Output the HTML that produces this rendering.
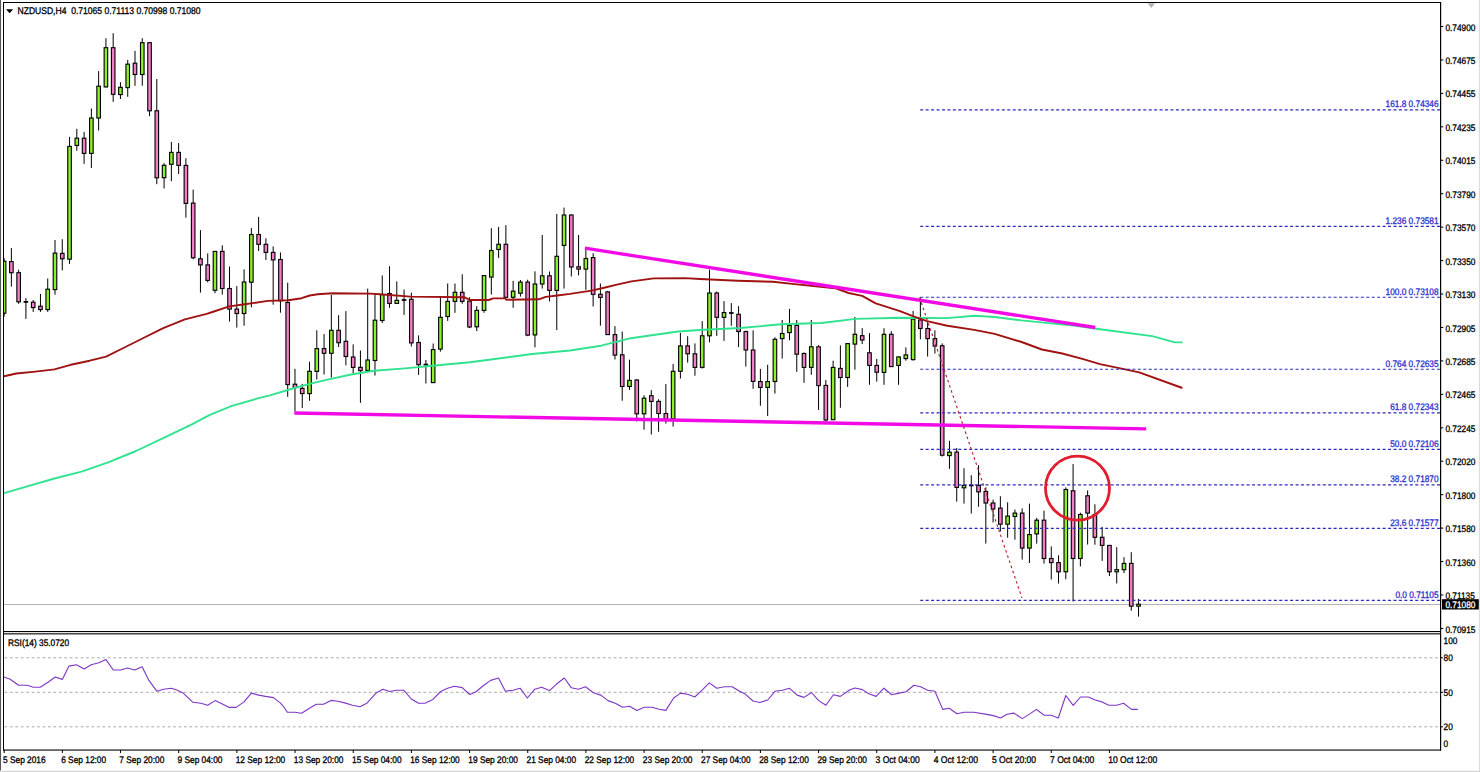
<!DOCTYPE html>
<html><head><meta charset="utf-8"><title>NZDUSD,H4</title>
<style>
html,body{margin:0;padding:0;background:#fff;overflow:hidden}
svg{display:block}
text{font-family:"Liberation Sans", Arial, sans-serif;text-rendering:geometricPrecision;stroke-width:0.28px}
.ax{font-size:8.3px;fill:#000;stroke:#000}
.fb{font-size:8.3px;fill:#3030d0;stroke:#3030d0}
.tt{font-size:8.56px;fill:#000;stroke:#000}
.dt{font-size:8.34px;fill:#000;stroke:#000}
</style></head><body>
<svg width="1480" height="772" viewBox="0 0 1480 772">
<rect x="0" y="0" width="1480" height="772" fill="#ffffff"/>
<rect x="0" y="0" width="1.05" height="770.5" fill="#555555"/>
<rect x="1478.9" y="0" width="1.1" height="772" fill="#dcdcdc"/>
<rect x="0" y="770.8" width="1480" height="1.2" fill="#d4d4d4"/>
<path d="M1147.6 3.2 L1155 3.2 L1151.3 7.9 Z" fill="#b4b4b4"/>
<defs><clipPath id="mc"><rect x="3.5" y="2.5" width="1437" height="629"/></clipPath><clipPath id="rc"><rect x="3.5" y="634" width="1437" height="116"/></clipPath></defs>
<g clip-path="url(#mc)">
<line x1="3" y1="604.5" x2="1440.5" y2="604.5" stroke="#b4b4b4" stroke-width="1"/>
<line x1="4.10" y1="258.2" x2="4.10" y2="316.6" stroke="#000" stroke-width="1"/>
<rect x="2.32" y="261.2" width="3.56" height="52.0" fill="#8cf02a" stroke="#000" stroke-width="1.12"/>
<line x1="11.37" y1="248.1" x2="11.37" y2="286.6" stroke="#000" stroke-width="1"/>
<rect x="9.59" y="261.6" width="3.56" height="11.1" fill="#f47fc8" stroke="#000" stroke-width="1.12"/>
<line x1="18.64" y1="269.7" x2="18.64" y2="303.8" stroke="#000" stroke-width="1"/>
<rect x="16.86" y="272.7" width="3.56" height="29.1" fill="#f47fc8" stroke="#000" stroke-width="1.12"/>
<line x1="25.92" y1="298.0" x2="25.92" y2="318.9" stroke="#000" stroke-width="1"/>
<line x1="23.62" y1="301.8" x2="28.22" y2="301.8" stroke="#000" stroke-width="1.75"/>
<line x1="33.19" y1="300.0" x2="33.19" y2="311.9" stroke="#000" stroke-width="1"/>
<rect x="31.41" y="302.2" width="3.56" height="5.4" fill="#f47fc8" stroke="#000" stroke-width="1.12"/>
<line x1="40.46" y1="293.9" x2="40.46" y2="311.9" stroke="#000" stroke-width="1"/>
<rect x="38.68" y="306.2" width="3.56" height="3.4" fill="#f47fc8" stroke="#000" stroke-width="1.12"/>
<line x1="47.73" y1="278.5" x2="47.73" y2="311.9" stroke="#000" stroke-width="1"/>
<rect x="45.95" y="289.2" width="3.56" height="20.4" fill="#8cf02a" stroke="#000" stroke-width="1.12"/>
<line x1="55.00" y1="240.0" x2="55.00" y2="294.7" stroke="#000" stroke-width="1"/>
<rect x="53.22" y="253.1" width="3.56" height="36.5" fill="#8cf02a" stroke="#000" stroke-width="1.12"/>
<line x1="62.28" y1="239.2" x2="62.28" y2="270.4" stroke="#000" stroke-width="1"/>
<rect x="60.50" y="253.4" width="3.56" height="5.4" fill="#f47fc8" stroke="#000" stroke-width="1.12"/>
<line x1="69.55" y1="136.9" x2="69.55" y2="263.9" stroke="#000" stroke-width="1"/>
<rect x="67.77" y="146.4" width="3.56" height="112.8" fill="#8cf02a" stroke="#000" stroke-width="1.12"/>
<line x1="76.82" y1="128.8" x2="76.82" y2="150.8" stroke="#000" stroke-width="1"/>
<rect x="75.04" y="138.2" width="3.56" height="7.2" fill="#8cf02a" stroke="#000" stroke-width="1.12"/>
<line x1="84.09" y1="131.9" x2="84.09" y2="163.9" stroke="#000" stroke-width="1"/>
<rect x="82.31" y="138.2" width="3.56" height="15.2" fill="#f47fc8" stroke="#000" stroke-width="1.12"/>
<line x1="91.36" y1="108.5" x2="91.36" y2="168.0" stroke="#000" stroke-width="1"/>
<rect x="89.58" y="118.0" width="3.56" height="35.4" fill="#8cf02a" stroke="#000" stroke-width="1.12"/>
<line x1="98.64" y1="71.1" x2="98.64" y2="130.5" stroke="#000" stroke-width="1"/>
<rect x="96.86" y="86.2" width="3.56" height="31.8" fill="#8cf02a" stroke="#000" stroke-width="1.12"/>
<line x1="105.91" y1="38.2" x2="105.91" y2="87.6" stroke="#000" stroke-width="1"/>
<rect x="104.13" y="47.7" width="3.56" height="39.2" fill="#8cf02a" stroke="#000" stroke-width="1.12"/>
<line x1="113.18" y1="33.2" x2="113.18" y2="101.8" stroke="#000" stroke-width="1"/>
<rect x="111.40" y="47.7" width="3.56" height="46.6" fill="#f47fc8" stroke="#000" stroke-width="1.12"/>
<line x1="120.45" y1="82.2" x2="120.45" y2="99.0" stroke="#000" stroke-width="1"/>
<rect x="118.67" y="87.3" width="3.56" height="7.3" fill="#8cf02a" stroke="#000" stroke-width="1.12"/>
<line x1="127.72" y1="59.9" x2="127.72" y2="96.8" stroke="#000" stroke-width="1"/>
<rect x="125.94" y="64.2" width="3.56" height="23.4" fill="#8cf02a" stroke="#000" stroke-width="1.12"/>
<line x1="135.00" y1="50.8" x2="135.00" y2="85.8" stroke="#000" stroke-width="1"/>
<rect x="133.22" y="63.2" width="3.56" height="11.3" fill="#f47fc8" stroke="#000" stroke-width="1.12"/>
<line x1="142.27" y1="38.2" x2="142.27" y2="85.8" stroke="#000" stroke-width="1"/>
<rect x="140.49" y="42.7" width="3.56" height="31.8" fill="#8cf02a" stroke="#000" stroke-width="1.12"/>
<line x1="149.54" y1="42.3" x2="149.54" y2="116.2" stroke="#000" stroke-width="1"/>
<rect x="147.76" y="42.7" width="3.56" height="68.1" fill="#f47fc8" stroke="#000" stroke-width="1.12"/>
<line x1="156.81" y1="79.0" x2="156.81" y2="184.2" stroke="#000" stroke-width="1"/>
<rect x="155.03" y="110.8" width="3.56" height="67.0" fill="#f47fc8" stroke="#000" stroke-width="1.12"/>
<line x1="164.08" y1="163.2" x2="164.08" y2="188.5" stroke="#000" stroke-width="1"/>
<rect x="162.30" y="165.3" width="3.56" height="12.4" fill="#8cf02a" stroke="#000" stroke-width="1.12"/>
<line x1="171.36" y1="141.9" x2="171.36" y2="181.2" stroke="#000" stroke-width="1"/>
<rect x="169.58" y="152.4" width="3.56" height="11.9" fill="#8cf02a" stroke="#000" stroke-width="1.12"/>
<line x1="178.63" y1="143.0" x2="178.63" y2="174.0" stroke="#000" stroke-width="1"/>
<rect x="176.85" y="152.4" width="3.56" height="13.0" fill="#f47fc8" stroke="#000" stroke-width="1.12"/>
<line x1="185.90" y1="158.2" x2="185.90" y2="217.7" stroke="#000" stroke-width="1"/>
<rect x="184.12" y="165.4" width="3.56" height="38.0" fill="#f47fc8" stroke="#000" stroke-width="1.12"/>
<line x1="193.17" y1="189.6" x2="193.17" y2="259.2" stroke="#000" stroke-width="1"/>
<rect x="191.39" y="203.1" width="3.56" height="54.7" fill="#f47fc8" stroke="#000" stroke-width="1.12"/>
<line x1="200.44" y1="230.1" x2="200.44" y2="292.6" stroke="#000" stroke-width="1"/>
<rect x="198.66" y="258.8" width="3.56" height="6.1" fill="#f47fc8" stroke="#000" stroke-width="1.12"/>
<line x1="207.72" y1="253.4" x2="207.72" y2="282.4" stroke="#000" stroke-width="1"/>
<rect x="205.94" y="264.9" width="3.56" height="15.5" fill="#f47fc8" stroke="#000" stroke-width="1.12"/>
<line x1="214.99" y1="251.4" x2="214.99" y2="293.2" stroke="#000" stroke-width="1"/>
<rect x="213.21" y="251.4" width="3.56" height="38.9" fill="#8cf02a" stroke="#000" stroke-width="1.12"/>
<line x1="222.26" y1="245.3" x2="222.26" y2="294.6" stroke="#000" stroke-width="1"/>
<rect x="220.48" y="251.4" width="3.56" height="37.1" fill="#f47fc8" stroke="#000" stroke-width="1.12"/>
<line x1="229.53" y1="266.5" x2="229.53" y2="321.6" stroke="#000" stroke-width="1"/>
<rect x="227.75" y="288.5" width="3.56" height="20.6" fill="#f47fc8" stroke="#000" stroke-width="1.12"/>
<line x1="236.80" y1="286.1" x2="236.80" y2="327.6" stroke="#000" stroke-width="1"/>
<rect x="235.02" y="309.1" width="3.56" height="4.4" fill="#f47fc8" stroke="#000" stroke-width="1.12"/>
<line x1="244.08" y1="269.3" x2="244.08" y2="325.7" stroke="#000" stroke-width="1"/>
<rect x="242.30" y="282.0" width="3.56" height="31.5" fill="#8cf02a" stroke="#000" stroke-width="1.12"/>
<line x1="251.35" y1="228.1" x2="251.35" y2="307.4" stroke="#000" stroke-width="1"/>
<rect x="249.57" y="234.5" width="3.56" height="47.7" fill="#8cf02a" stroke="#000" stroke-width="1.12"/>
<line x1="258.62" y1="216.9" x2="258.62" y2="251.1" stroke="#000" stroke-width="1"/>
<rect x="256.84" y="234.5" width="3.56" height="9.8" fill="#f47fc8" stroke="#000" stroke-width="1.12"/>
<line x1="265.89" y1="238.2" x2="265.89" y2="260.1" stroke="#000" stroke-width="1"/>
<rect x="264.11" y="244.3" width="3.56" height="8.1" fill="#f47fc8" stroke="#000" stroke-width="1.12"/>
<line x1="273.16" y1="246.4" x2="273.16" y2="304.7" stroke="#000" stroke-width="1"/>
<rect x="271.38" y="252.4" width="3.56" height="7.5" fill="#f47fc8" stroke="#000" stroke-width="1.12"/>
<line x1="280.44" y1="252.4" x2="280.44" y2="312.7" stroke="#000" stroke-width="1"/>
<rect x="278.66" y="259.5" width="3.56" height="41.3" fill="#f47fc8" stroke="#000" stroke-width="1.12"/>
<line x1="287.71" y1="282.7" x2="287.71" y2="396.8" stroke="#000" stroke-width="1"/>
<rect x="285.93" y="302.5" width="3.56" height="82.1" fill="#f47fc8" stroke="#000" stroke-width="1.12"/>
<line x1="294.98" y1="368.8" x2="294.98" y2="411.4" stroke="#000" stroke-width="1"/>
<rect x="293.20" y="384.2" width="3.56" height="3.4" fill="#f47fc8" stroke="#000" stroke-width="1.12"/>
<line x1="302.25" y1="383.9" x2="302.25" y2="408.0" stroke="#000" stroke-width="1"/>
<rect x="300.47" y="388.4" width="3.56" height="5.2" fill="#f47fc8" stroke="#000" stroke-width="1.12"/>
<line x1="309.52" y1="361.7" x2="309.52" y2="400.8" stroke="#000" stroke-width="1"/>
<rect x="307.74" y="371.3" width="3.56" height="22.3" fill="#8cf02a" stroke="#000" stroke-width="1.12"/>
<line x1="316.80" y1="330.3" x2="316.80" y2="379.6" stroke="#000" stroke-width="1"/>
<rect x="315.02" y="348.6" width="3.56" height="22.8" fill="#8cf02a" stroke="#000" stroke-width="1.12"/>
<line x1="324.07" y1="334.1" x2="324.07" y2="374.5" stroke="#000" stroke-width="1"/>
<rect x="322.29" y="348.6" width="3.56" height="4.7" fill="#f47fc8" stroke="#000" stroke-width="1.12"/>
<line x1="331.34" y1="295.0" x2="331.34" y2="377.5" stroke="#000" stroke-width="1"/>
<rect x="329.56" y="330.3" width="3.56" height="23.0" fill="#8cf02a" stroke="#000" stroke-width="1.12"/>
<line x1="338.61" y1="315.1" x2="338.61" y2="347.0" stroke="#000" stroke-width="1"/>
<rect x="336.83" y="330.3" width="3.56" height="12.4" fill="#f47fc8" stroke="#000" stroke-width="1.12"/>
<line x1="345.88" y1="311.1" x2="345.88" y2="365.4" stroke="#000" stroke-width="1"/>
<rect x="344.10" y="341.3" width="3.56" height="15.2" fill="#f47fc8" stroke="#000" stroke-width="1.12"/>
<line x1="353.16" y1="344.4" x2="353.16" y2="373.5" stroke="#000" stroke-width="1"/>
<rect x="351.38" y="357.0" width="3.56" height="10.4" fill="#f47fc8" stroke="#000" stroke-width="1.12"/>
<line x1="360.43" y1="350.5" x2="360.43" y2="402.8" stroke="#000" stroke-width="1"/>
<rect x="358.65" y="367.3" width="3.56" height="3.3" fill="#f47fc8" stroke="#000" stroke-width="1.12"/>
<line x1="367.70" y1="288.6" x2="367.70" y2="371.9" stroke="#000" stroke-width="1"/>
<rect x="365.92" y="360.0" width="3.56" height="10.5" fill="#8cf02a" stroke="#000" stroke-width="1.12"/>
<line x1="374.97" y1="294.4" x2="374.97" y2="375.5" stroke="#000" stroke-width="1"/>
<rect x="373.19" y="320.2" width="3.56" height="40.3" fill="#8cf02a" stroke="#000" stroke-width="1.12"/>
<line x1="382.24" y1="275.4" x2="382.24" y2="323.0" stroke="#000" stroke-width="1"/>
<rect x="380.46" y="294.6" width="3.56" height="25.9" fill="#8cf02a" stroke="#000" stroke-width="1.12"/>
<line x1="389.52" y1="266.2" x2="389.52" y2="307.8" stroke="#000" stroke-width="1"/>
<rect x="387.74" y="293.5" width="3.56" height="9.9" fill="#f47fc8" stroke="#000" stroke-width="1.12"/>
<line x1="396.79" y1="281.4" x2="396.79" y2="303.8" stroke="#000" stroke-width="1"/>
<rect x="395.01" y="300.3" width="3.56" height="3.1" fill="#8cf02a" stroke="#000" stroke-width="1.12"/>
<line x1="404.06" y1="289.6" x2="404.06" y2="314.9" stroke="#000" stroke-width="1"/>
<line x1="401.76" y1="300.0" x2="406.36" y2="300.0" stroke="#000" stroke-width="1.75"/>
<line x1="411.33" y1="292.6" x2="411.33" y2="346.4" stroke="#000" stroke-width="1"/>
<rect x="409.55" y="299.3" width="3.56" height="43.6" fill="#f47fc8" stroke="#000" stroke-width="1.12"/>
<line x1="418.60" y1="335.4" x2="418.60" y2="374.9" stroke="#000" stroke-width="1"/>
<rect x="416.82" y="342.5" width="3.56" height="22.1" fill="#f47fc8" stroke="#000" stroke-width="1.12"/>
<line x1="425.88" y1="360.0" x2="425.88" y2="383.5" stroke="#000" stroke-width="1"/>
<line x1="423.58" y1="364.6" x2="428.18" y2="364.6" stroke="#000" stroke-width="1.75"/>
<line x1="433.15" y1="343.5" x2="433.15" y2="383.0" stroke="#000" stroke-width="1"/>
<rect x="431.37" y="349.6" width="3.56" height="33.0" fill="#8cf02a" stroke="#000" stroke-width="1.12"/>
<line x1="440.42" y1="297.3" x2="440.42" y2="351.6" stroke="#000" stroke-width="1"/>
<rect x="438.64" y="317.3" width="3.56" height="31.8" fill="#8cf02a" stroke="#000" stroke-width="1.12"/>
<line x1="447.69" y1="283.5" x2="447.69" y2="320.9" stroke="#000" stroke-width="1"/>
<rect x="445.91" y="301.4" width="3.56" height="15.1" fill="#8cf02a" stroke="#000" stroke-width="1.12"/>
<line x1="454.96" y1="283.5" x2="454.96" y2="312.8" stroke="#000" stroke-width="1"/>
<rect x="453.18" y="292.3" width="3.56" height="9.1" fill="#8cf02a" stroke="#000" stroke-width="1.12"/>
<line x1="462.24" y1="274.3" x2="462.24" y2="303.8" stroke="#000" stroke-width="1"/>
<rect x="460.46" y="292.3" width="3.56" height="9.1" fill="#f47fc8" stroke="#000" stroke-width="1.12"/>
<line x1="469.51" y1="297.3" x2="469.51" y2="328.1" stroke="#000" stroke-width="1"/>
<rect x="467.73" y="301.1" width="3.56" height="25.9" fill="#f47fc8" stroke="#000" stroke-width="1.12"/>
<line x1="476.78" y1="306.1" x2="476.78" y2="331.1" stroke="#000" stroke-width="1"/>
<rect x="475.00" y="310.4" width="3.56" height="16.4" fill="#8cf02a" stroke="#000" stroke-width="1.12"/>
<line x1="484.05" y1="275.0" x2="484.05" y2="312.8" stroke="#000" stroke-width="1"/>
<rect x="482.27" y="275.6" width="3.56" height="34.8" fill="#8cf02a" stroke="#000" stroke-width="1.12"/>
<line x1="491.32" y1="228.2" x2="491.32" y2="294.6" stroke="#000" stroke-width="1"/>
<rect x="489.54" y="250.5" width="3.56" height="26.6" fill="#8cf02a" stroke="#000" stroke-width="1.12"/>
<line x1="498.60" y1="226.9" x2="498.60" y2="258.0" stroke="#000" stroke-width="1"/>
<rect x="496.82" y="244.3" width="3.56" height="5.2" fill="#8cf02a" stroke="#000" stroke-width="1.12"/>
<line x1="505.87" y1="225.1" x2="505.87" y2="298.0" stroke="#000" stroke-width="1"/>
<rect x="504.09" y="244.3" width="3.56" height="53.0" fill="#f47fc8" stroke="#000" stroke-width="1.12"/>
<line x1="513.14" y1="280.8" x2="513.14" y2="307.8" stroke="#000" stroke-width="1"/>
<rect x="511.36" y="291.2" width="3.56" height="6.1" fill="#8cf02a" stroke="#000" stroke-width="1.12"/>
<line x1="520.41" y1="280.0" x2="520.41" y2="296.6" stroke="#000" stroke-width="1"/>
<rect x="518.63" y="282.1" width="3.56" height="11.1" fill="#8cf02a" stroke="#000" stroke-width="1.12"/>
<line x1="527.68" y1="279.7" x2="527.68" y2="336.2" stroke="#000" stroke-width="1"/>
<rect x="525.90" y="282.1" width="3.56" height="53.0" fill="#f47fc8" stroke="#000" stroke-width="1.12"/>
<line x1="534.96" y1="271.4" x2="534.96" y2="347.3" stroke="#000" stroke-width="1"/>
<rect x="533.18" y="284.0" width="3.56" height="50.9" fill="#8cf02a" stroke="#000" stroke-width="1.12"/>
<line x1="542.23" y1="235.0" x2="542.23" y2="288.6" stroke="#000" stroke-width="1"/>
<rect x="540.45" y="275.8" width="3.56" height="8.2" fill="#8cf02a" stroke="#000" stroke-width="1.12"/>
<line x1="549.50" y1="271.5" x2="549.50" y2="301.4" stroke="#000" stroke-width="1"/>
<rect x="547.72" y="275.8" width="3.56" height="14.6" fill="#f47fc8" stroke="#000" stroke-width="1.12"/>
<line x1="556.77" y1="213.9" x2="556.77" y2="330.0" stroke="#000" stroke-width="1"/>
<rect x="554.99" y="256.3" width="3.56" height="34.1" fill="#8cf02a" stroke="#000" stroke-width="1.12"/>
<line x1="564.04" y1="207.6" x2="564.04" y2="288.6" stroke="#000" stroke-width="1"/>
<rect x="562.26" y="215.0" width="3.56" height="30.4" fill="#8cf02a" stroke="#000" stroke-width="1.12"/>
<line x1="571.32" y1="214.6" x2="571.32" y2="276.5" stroke="#000" stroke-width="1"/>
<rect x="569.54" y="215.0" width="3.56" height="52.0" fill="#f47fc8" stroke="#000" stroke-width="1.12"/>
<line x1="578.59" y1="235.0" x2="578.59" y2="275.4" stroke="#000" stroke-width="1"/>
<rect x="576.81" y="266.8" width="3.56" height="2.3" fill="#f47fc8" stroke="#000" stroke-width="1.12"/>
<line x1="585.86" y1="249.5" x2="585.86" y2="289.8" stroke="#000" stroke-width="1"/>
<rect x="584.08" y="258.5" width="3.56" height="10.6" fill="#8cf02a" stroke="#000" stroke-width="1.12"/>
<line x1="593.13" y1="253.2" x2="593.13" y2="306.5" stroke="#000" stroke-width="1"/>
<rect x="591.35" y="257.6" width="3.56" height="36.7" fill="#f47fc8" stroke="#000" stroke-width="1.12"/>
<line x1="600.40" y1="283.5" x2="600.40" y2="325.7" stroke="#000" stroke-width="1"/>
<rect x="598.62" y="294.3" width="3.56" height="3.1" fill="#f47fc8" stroke="#000" stroke-width="1.12"/>
<line x1="607.68" y1="290.9" x2="607.68" y2="335.0" stroke="#000" stroke-width="1"/>
<rect x="605.90" y="291.9" width="3.56" height="42.7" fill="#f47fc8" stroke="#000" stroke-width="1.12"/>
<line x1="614.95" y1="326.1" x2="614.95" y2="359.5" stroke="#000" stroke-width="1"/>
<rect x="613.17" y="334.6" width="3.56" height="20.5" fill="#f47fc8" stroke="#000" stroke-width="1.12"/>
<line x1="622.22" y1="331.5" x2="622.22" y2="400.7" stroke="#000" stroke-width="1"/>
<rect x="620.44" y="354.8" width="3.56" height="31.7" fill="#f47fc8" stroke="#000" stroke-width="1.12"/>
<line x1="629.49" y1="359.7" x2="629.49" y2="389.9" stroke="#000" stroke-width="1"/>
<rect x="627.71" y="380.4" width="3.56" height="6.1" fill="#8cf02a" stroke="#000" stroke-width="1.12"/>
<line x1="636.76" y1="379.0" x2="636.76" y2="421.4" stroke="#000" stroke-width="1"/>
<rect x="634.98" y="380.0" width="3.56" height="33.8" fill="#f47fc8" stroke="#000" stroke-width="1.12"/>
<line x1="644.04" y1="395.3" x2="644.04" y2="429.7" stroke="#000" stroke-width="1"/>
<rect x="642.26" y="398.2" width="3.56" height="15.6" fill="#8cf02a" stroke="#000" stroke-width="1.12"/>
<line x1="651.31" y1="390.1" x2="651.31" y2="434.5" stroke="#000" stroke-width="1"/>
<rect x="649.53" y="395.7" width="3.56" height="5.7" fill="#f47fc8" stroke="#000" stroke-width="1.12"/>
<line x1="658.58" y1="399.3" x2="658.58" y2="431.8" stroke="#000" stroke-width="1"/>
<rect x="656.80" y="401.4" width="3.56" height="12.1" fill="#f47fc8" stroke="#000" stroke-width="1.12"/>
<line x1="665.85" y1="384.1" x2="665.85" y2="423.6" stroke="#000" stroke-width="1"/>
<rect x="664.07" y="413.5" width="3.56" height="5.1" fill="#f47fc8" stroke="#000" stroke-width="1.12"/>
<line x1="673.12" y1="363.9" x2="673.12" y2="426.6" stroke="#000" stroke-width="1"/>
<rect x="671.34" y="371.3" width="3.56" height="47.3" fill="#8cf02a" stroke="#000" stroke-width="1.12"/>
<line x1="680.40" y1="332.8" x2="680.40" y2="378.6" stroke="#000" stroke-width="1"/>
<rect x="678.62" y="345.9" width="3.56" height="25.4" fill="#8cf02a" stroke="#000" stroke-width="1.12"/>
<line x1="687.67" y1="336.2" x2="687.67" y2="362.6" stroke="#000" stroke-width="1"/>
<rect x="685.89" y="345.9" width="3.56" height="7.9" fill="#f47fc8" stroke="#000" stroke-width="1.12"/>
<line x1="694.94" y1="343.4" x2="694.94" y2="375.7" stroke="#000" stroke-width="1"/>
<rect x="693.16" y="353.8" width="3.56" height="13.6" fill="#f47fc8" stroke="#000" stroke-width="1.12"/>
<line x1="702.21" y1="321.1" x2="702.21" y2="368.6" stroke="#000" stroke-width="1"/>
<rect x="700.43" y="335.8" width="3.56" height="31.6" fill="#8cf02a" stroke="#000" stroke-width="1.12"/>
<line x1="709.48" y1="269.6" x2="709.48" y2="342.3" stroke="#000" stroke-width="1"/>
<rect x="707.70" y="293.0" width="3.56" height="42.8" fill="#8cf02a" stroke="#000" stroke-width="1.12"/>
<line x1="716.76" y1="291.6" x2="716.76" y2="335.9" stroke="#000" stroke-width="1"/>
<rect x="714.98" y="293.0" width="3.56" height="24.3" fill="#f47fc8" stroke="#000" stroke-width="1.12"/>
<line x1="724.03" y1="301.1" x2="724.03" y2="340.9" stroke="#000" stroke-width="1"/>
<rect x="722.25" y="312.6" width="3.56" height="4.7" fill="#8cf02a" stroke="#000" stroke-width="1.12"/>
<line x1="731.30" y1="303.1" x2="731.30" y2="325.8" stroke="#000" stroke-width="1"/>
<line x1="729.00" y1="313.0" x2="733.60" y2="313.0" stroke="#000" stroke-width="1.75"/>
<line x1="738.57" y1="306.2" x2="738.57" y2="347.0" stroke="#000" stroke-width="1"/>
<rect x="736.79" y="314.3" width="3.56" height="17.2" fill="#f47fc8" stroke="#000" stroke-width="1.12"/>
<line x1="745.84" y1="330.8" x2="745.84" y2="366.6" stroke="#000" stroke-width="1"/>
<rect x="744.06" y="331.5" width="3.56" height="18.5" fill="#f47fc8" stroke="#000" stroke-width="1.12"/>
<line x1="753.12" y1="330.4" x2="753.12" y2="388.8" stroke="#000" stroke-width="1"/>
<rect x="751.34" y="350.0" width="3.56" height="31.4" fill="#f47fc8" stroke="#000" stroke-width="1.12"/>
<line x1="760.39" y1="368.9" x2="760.39" y2="405.8" stroke="#000" stroke-width="1"/>
<rect x="758.61" y="381.6" width="3.56" height="5.8" fill="#f47fc8" stroke="#000" stroke-width="1.12"/>
<line x1="767.66" y1="364.8" x2="767.66" y2="416.0" stroke="#000" stroke-width="1"/>
<rect x="765.88" y="381.6" width="3.56" height="5.8" fill="#8cf02a" stroke="#000" stroke-width="1.12"/>
<line x1="774.93" y1="337.3" x2="774.93" y2="393.6" stroke="#000" stroke-width="1"/>
<rect x="773.15" y="339.3" width="3.56" height="42.2" fill="#8cf02a" stroke="#000" stroke-width="1.12"/>
<line x1="782.20" y1="320.0" x2="782.20" y2="358.6" stroke="#000" stroke-width="1"/>
<rect x="780.42" y="333.5" width="3.56" height="5.1" fill="#8cf02a" stroke="#000" stroke-width="1.12"/>
<line x1="789.48" y1="308.9" x2="789.48" y2="340.3" stroke="#000" stroke-width="1"/>
<rect x="787.70" y="325.4" width="3.56" height="7.2" fill="#8cf02a" stroke="#000" stroke-width="1.12"/>
<line x1="796.75" y1="320.0" x2="796.75" y2="371.8" stroke="#000" stroke-width="1"/>
<rect x="794.97" y="325.4" width="3.56" height="28.8" fill="#f47fc8" stroke="#000" stroke-width="1.12"/>
<line x1="804.02" y1="352.4" x2="804.02" y2="382.9" stroke="#000" stroke-width="1"/>
<rect x="802.24" y="353.5" width="3.56" height="13.9" fill="#f47fc8" stroke="#000" stroke-width="1.12"/>
<line x1="811.29" y1="320.0" x2="811.29" y2="374.8" stroke="#000" stroke-width="1"/>
<rect x="809.51" y="346.8" width="3.56" height="20.6" fill="#8cf02a" stroke="#000" stroke-width="1.12"/>
<line x1="818.56" y1="345.1" x2="818.56" y2="409.9" stroke="#000" stroke-width="1"/>
<rect x="816.78" y="346.8" width="3.56" height="38.8" fill="#f47fc8" stroke="#000" stroke-width="1.12"/>
<line x1="825.84" y1="380.0" x2="825.84" y2="421.4" stroke="#000" stroke-width="1"/>
<rect x="824.06" y="385.4" width="3.56" height="34.6" fill="#f47fc8" stroke="#000" stroke-width="1.12"/>
<line x1="833.11" y1="360.7" x2="833.11" y2="420.0" stroke="#000" stroke-width="1"/>
<rect x="831.33" y="367.4" width="3.56" height="52.3" fill="#8cf02a" stroke="#000" stroke-width="1.12"/>
<line x1="840.38" y1="345.4" x2="840.38" y2="407.8" stroke="#000" stroke-width="1"/>
<rect x="838.60" y="368.4" width="3.56" height="9.1" fill="#f47fc8" stroke="#000" stroke-width="1.12"/>
<line x1="847.65" y1="343.4" x2="847.65" y2="386.9" stroke="#000" stroke-width="1"/>
<rect x="845.87" y="343.6" width="3.56" height="33.9" fill="#8cf02a" stroke="#000" stroke-width="1.12"/>
<line x1="854.92" y1="317.0" x2="854.92" y2="369.7" stroke="#000" stroke-width="1"/>
<rect x="853.14" y="334.3" width="3.56" height="9.8" fill="#8cf02a" stroke="#000" stroke-width="1.12"/>
<line x1="862.20" y1="328.2" x2="862.20" y2="344.1" stroke="#000" stroke-width="1"/>
<rect x="860.42" y="335.7" width="3.56" height="4.3" fill="#f47fc8" stroke="#000" stroke-width="1.12"/>
<line x1="869.47" y1="333.2" x2="869.47" y2="384.8" stroke="#000" stroke-width="1"/>
<rect x="867.69" y="352.8" width="3.56" height="12.6" fill="#f47fc8" stroke="#000" stroke-width="1.12"/>
<line x1="876.74" y1="358.9" x2="876.74" y2="381.6" stroke="#000" stroke-width="1"/>
<rect x="874.96" y="365.4" width="3.56" height="6.8" fill="#f47fc8" stroke="#000" stroke-width="1.12"/>
<line x1="884.01" y1="328.2" x2="884.01" y2="384.8" stroke="#000" stroke-width="1"/>
<rect x="882.23" y="334.3" width="3.56" height="38.1" fill="#8cf02a" stroke="#000" stroke-width="1.12"/>
<line x1="891.28" y1="331.2" x2="891.28" y2="367.0" stroke="#000" stroke-width="1"/>
<rect x="889.50" y="334.3" width="3.56" height="32.3" fill="#f47fc8" stroke="#000" stroke-width="1.12"/>
<line x1="898.56" y1="356.5" x2="898.56" y2="384.8" stroke="#000" stroke-width="1"/>
<rect x="896.78" y="356.9" width="3.56" height="8.5" fill="#8cf02a" stroke="#000" stroke-width="1.12"/>
<line x1="905.83" y1="347.4" x2="905.83" y2="360.7" stroke="#000" stroke-width="1"/>
<rect x="904.05" y="354.9" width="3.56" height="3.7" fill="#8cf02a" stroke="#000" stroke-width="1.12"/>
<line x1="913.10" y1="310.9" x2="913.10" y2="360.7" stroke="#000" stroke-width="1"/>
<rect x="911.32" y="319.1" width="3.56" height="40.5" fill="#8cf02a" stroke="#000" stroke-width="1.12"/>
<line x1="920.37" y1="297.4" x2="920.37" y2="339.3" stroke="#000" stroke-width="1"/>
<rect x="918.59" y="320.0" width="3.56" height="8.5" fill="#f47fc8" stroke="#000" stroke-width="1.12"/>
<line x1="927.64" y1="322.2" x2="927.64" y2="356.6" stroke="#000" stroke-width="1"/>
<rect x="925.86" y="328.5" width="3.56" height="10.1" fill="#f47fc8" stroke="#000" stroke-width="1.12"/>
<line x1="934.92" y1="330.3" x2="934.92" y2="353.5" stroke="#000" stroke-width="1"/>
<rect x="933.14" y="338.6" width="3.56" height="7.5" fill="#f47fc8" stroke="#000" stroke-width="1.12"/>
<line x1="942.19" y1="343.4" x2="942.19" y2="456.5" stroke="#000" stroke-width="1"/>
<rect x="940.41" y="345.7" width="3.56" height="109.5" fill="#f47fc8" stroke="#000" stroke-width="1.12"/>
<line x1="949.46" y1="440.8" x2="949.46" y2="468.9" stroke="#000" stroke-width="1"/>
<rect x="947.68" y="452.1" width="3.56" height="3.5" fill="#8cf02a" stroke="#000" stroke-width="1.12"/>
<line x1="956.73" y1="448.0" x2="956.73" y2="501.6" stroke="#000" stroke-width="1"/>
<rect x="954.95" y="452.1" width="3.56" height="35.3" fill="#f47fc8" stroke="#000" stroke-width="1.12"/>
<line x1="964.00" y1="468.2" x2="964.00" y2="503.6" stroke="#000" stroke-width="1"/>
<rect x="962.22" y="485.4" width="3.56" height="2.4" fill="#8cf02a" stroke="#000" stroke-width="1.12"/>
<line x1="971.28" y1="475.3" x2="971.28" y2="513.5" stroke="#000" stroke-width="1"/>
<line x1="968.98" y1="485.4" x2="973.58" y2="485.4" stroke="#000" stroke-width="1.75"/>
<line x1="978.55" y1="465.1" x2="978.55" y2="506.8" stroke="#000" stroke-width="1"/>
<rect x="976.77" y="485.4" width="3.56" height="6.5" fill="#f47fc8" stroke="#000" stroke-width="1.12"/>
<line x1="985.82" y1="487.4" x2="985.82" y2="543.6" stroke="#000" stroke-width="1"/>
<rect x="984.04" y="491.5" width="3.56" height="11.5" fill="#f47fc8" stroke="#000" stroke-width="1.12"/>
<line x1="993.09" y1="499.6" x2="993.09" y2="522.5" stroke="#000" stroke-width="1"/>
<rect x="991.31" y="503.0" width="3.56" height="6.0" fill="#f47fc8" stroke="#000" stroke-width="1.12"/>
<line x1="1000.36" y1="496.2" x2="1000.36" y2="531.5" stroke="#000" stroke-width="1"/>
<rect x="998.58" y="508.1" width="3.56" height="16.1" fill="#f47fc8" stroke="#000" stroke-width="1.12"/>
<line x1="1007.64" y1="502.3" x2="1007.64" y2="537.7" stroke="#000" stroke-width="1"/>
<rect x="1005.86" y="516.1" width="3.56" height="8.1" fill="#8cf02a" stroke="#000" stroke-width="1.12"/>
<line x1="1014.91" y1="509.5" x2="1014.91" y2="539.7" stroke="#000" stroke-width="1"/>
<rect x="1013.13" y="513.1" width="3.56" height="3.4" fill="#8cf02a" stroke="#000" stroke-width="1.12"/>
<line x1="1022.18" y1="508.4" x2="1022.18" y2="559.6" stroke="#000" stroke-width="1"/>
<rect x="1020.40" y="513.1" width="3.56" height="35.0" fill="#f47fc8" stroke="#000" stroke-width="1.12"/>
<line x1="1029.45" y1="503.6" x2="1029.45" y2="563.0" stroke="#000" stroke-width="1"/>
<rect x="1027.67" y="534.6" width="3.56" height="13.5" fill="#8cf02a" stroke="#000" stroke-width="1.12"/>
<line x1="1036.72" y1="517.8" x2="1036.72" y2="543.6" stroke="#000" stroke-width="1"/>
<rect x="1034.94" y="520.2" width="3.56" height="13.7" fill="#8cf02a" stroke="#000" stroke-width="1.12"/>
<line x1="1044.00" y1="510.7" x2="1044.00" y2="563.6" stroke="#000" stroke-width="1"/>
<rect x="1042.22" y="520.2" width="3.56" height="38.3" fill="#f47fc8" stroke="#000" stroke-width="1.12"/>
<line x1="1051.27" y1="546.4" x2="1051.27" y2="579.5" stroke="#000" stroke-width="1"/>
<rect x="1049.49" y="558.5" width="3.56" height="4.1" fill="#f47fc8" stroke="#000" stroke-width="1.12"/>
<line x1="1058.54" y1="555.3" x2="1058.54" y2="583.5" stroke="#000" stroke-width="1"/>
<rect x="1056.76" y="562.6" width="3.56" height="9.2" fill="#f47fc8" stroke="#000" stroke-width="1.12"/>
<line x1="1065.81" y1="487.4" x2="1065.81" y2="579.2" stroke="#000" stroke-width="1"/>
<rect x="1064.03" y="489.5" width="3.56" height="82.3" fill="#8cf02a" stroke="#000" stroke-width="1.12"/>
<line x1="1073.08" y1="464.1" x2="1073.08" y2="601.5" stroke="#000" stroke-width="1"/>
<rect x="1071.30" y="490.8" width="3.56" height="67.7" fill="#f47fc8" stroke="#000" stroke-width="1.12"/>
<line x1="1080.36" y1="512.7" x2="1080.36" y2="566.4" stroke="#000" stroke-width="1"/>
<rect x="1078.58" y="514.5" width="3.56" height="44.0" fill="#8cf02a" stroke="#000" stroke-width="1.12"/>
<line x1="1087.63" y1="490.4" x2="1087.63" y2="544.5" stroke="#000" stroke-width="1"/>
<rect x="1085.85" y="495.8" width="3.56" height="17.3" fill="#f47fc8" stroke="#000" stroke-width="1.12"/>
<line x1="1094.90" y1="504.3" x2="1094.90" y2="544.7" stroke="#000" stroke-width="1"/>
<rect x="1093.12" y="514.5" width="3.56" height="22.8" fill="#f47fc8" stroke="#000" stroke-width="1.12"/>
<line x1="1102.17" y1="526.9" x2="1102.17" y2="560.9" stroke="#000" stroke-width="1"/>
<rect x="1100.39" y="537.3" width="3.56" height="8.1" fill="#f47fc8" stroke="#000" stroke-width="1.12"/>
<line x1="1109.44" y1="545.0" x2="1109.44" y2="576.1" stroke="#000" stroke-width="1"/>
<rect x="1107.66" y="545.4" width="3.56" height="26.4" fill="#f47fc8" stroke="#000" stroke-width="1.12"/>
<line x1="1116.72" y1="547.2" x2="1116.72" y2="583.5" stroke="#000" stroke-width="1"/>
<rect x="1114.94" y="569.7" width="3.56" height="2.1" fill="#8cf02a" stroke="#000" stroke-width="1.12"/>
<line x1="1123.99" y1="557.2" x2="1123.99" y2="573.1" stroke="#000" stroke-width="1"/>
<rect x="1122.21" y="563.4" width="3.56" height="6.3" fill="#8cf02a" stroke="#000" stroke-width="1.12"/>
<line x1="1131.26" y1="552.2" x2="1131.26" y2="610.7" stroke="#000" stroke-width="1"/>
<rect x="1129.48" y="563.4" width="3.56" height="42.8" fill="#f47fc8" stroke="#000" stroke-width="1.12"/>
<line x1="1138.53" y1="598.8" x2="1138.53" y2="616.6" stroke="#000" stroke-width="1"/>
<rect x="1136.75" y="604.2" width="3.56" height="2.0" fill="#8cf02a" stroke="#000" stroke-width="1.12"/>
<polyline points="3.5,493.4 4.1,493.2 27.2,486.4 54.4,478.5 81.6,471.7 108.8,462.2 136.0,451.0 163.2,438.2 190.4,425.2 209.4,415.1 231.2,406.1 258.4,398.2 270.0,395.4 294.3,388.0 314.6,382.6 328.6,379.3 351.1,374.5 374.1,370.8 405.1,368.4 432.2,365.7 470.0,362.3 532.2,354.0 570.0,350.5 601.1,345.7 630.8,338.2 678.1,331.5 700.0,330.0 740.5,328.0 781.1,324.3 821.6,323.0 855.4,318.9 900.0,317.8 947.3,318.1 974.3,315.7 994.6,317.0 1021.6,320.4 1048.6,323.1 1075.7,325.8 1100.0,329.2 1152.2,336.1 1175.1,342.4 1182.6,342.4" fill="none" stroke="#2fe38f" stroke-width="1.9" stroke-linejoin="round" />
<polyline points="3.5,376.3 4.1,376.2 16.3,373.5 35.4,371.6 54.4,369.4 70.7,364.8 89.7,360.7 106.1,356.6 122.4,348.5 141.4,339.0 163.2,328.1 184.9,319.4 206.7,313.9 212.4,312.0 229.3,306.4 244.9,304.3 267.8,300.9 288.1,300.3 301.6,298.2 309.7,295.5 317.8,294.2 332.7,293.2 370.0,293.6 380.0,294.2 410.5,296.6 464.6,297.3 470.0,300.0 488.9,300.0 493.0,298.4 505.1,298.4 506.5,299.7 538.9,299.3 545.7,296.9 559.2,295.3 570.0,293.9 591.6,290.6 605.1,287.5 618.0,284.4 631.5,281.4 653.8,278.4 684.9,278.1 700.0,279.0 737.8,280.8 773.0,281.8 794.6,284.1 835.1,288.2 848.6,293.0 862.2,295.9 875.7,303.4 900.0,311.2 913.5,316.4 927.0,321.1 947.3,325.8 974.3,329.9 994.6,333.9 1021.6,342.0 1041.9,349.5 1062.2,353.5 1082.4,358.9 1100.0,364.1 1121.6,368.6 1139.2,372.4 1182.4,388.0" fill="none" stroke="#a01212" stroke-width="1.9" stroke-linejoin="round" />
<line x1="920.2" y1="109.9" x2="1440" y2="109.9" stroke="#2e2cbc" stroke-width="1.15" stroke-dasharray="3.05 2.39"/>
<line x1="920.2" y1="226.4" x2="1440" y2="226.4" stroke="#2e2cbc" stroke-width="1.15" stroke-dasharray="3.05 2.39"/>
<line x1="920.2" y1="297.2" x2="1440" y2="297.2" stroke="#2e2cbc" stroke-width="1.15" stroke-dasharray="3.05 2.39"/>
<line x1="920.2" y1="369.2" x2="1440" y2="369.2" stroke="#2e2cbc" stroke-width="1.15" stroke-dasharray="3.05 2.39"/>
<line x1="920.2" y1="412.8" x2="1440" y2="412.8" stroke="#2e2cbc" stroke-width="1.15" stroke-dasharray="3.05 2.39"/>
<line x1="920.2" y1="449.4" x2="1440" y2="449.4" stroke="#2e2cbc" stroke-width="1.15" stroke-dasharray="3.05 2.39"/>
<line x1="920.2" y1="484.8" x2="1440" y2="484.8" stroke="#2e2cbc" stroke-width="1.15" stroke-dasharray="3.05 2.39"/>
<line x1="920.2" y1="528.3" x2="1440" y2="528.3" stroke="#2e2cbc" stroke-width="1.15" stroke-dasharray="3.05 2.39"/>
<line x1="920.2" y1="600.4" x2="1440" y2="600.4" stroke="#2e2cbc" stroke-width="1.15" stroke-dasharray="3.05 2.39"/>
<line x1="294.3" y1="413" x2="1146.2" y2="428.9" stroke="#f20ae6" stroke-width="3.3"/>
<line x1="584.9" y1="248.2" x2="1095.3" y2="327.5" stroke="#f20ae6" stroke-width="3.3"/>
<line x1="919.5" y1="297.4" x2="1022" y2="598" stroke="#b8242e" stroke-width="1.15" stroke-dasharray="2.6 2.85"/>
<circle cx="1077.5" cy="488.2" r="32" fill="none" stroke="#e01e2e" stroke-width="2.8"/>
</g>
<text class="fb" transform="translate(1438.60,107.20) scale(1,1.14)" xml:space="preserve" text-anchor="end">161.8 0.74346</text>
<text class="fb" transform="translate(1438.60,223.70) scale(1,1.14)" xml:space="preserve" text-anchor="end">1.236 0.73581</text>
<text class="fb" transform="translate(1438.60,294.50) scale(1,1.14)" xml:space="preserve" text-anchor="end">100.0 0.73108</text>
<text class="fb" transform="translate(1438.60,366.50) scale(1,1.14)" xml:space="preserve" text-anchor="end">0.764 0.72635</text>
<text class="fb" transform="translate(1438.60,410.10) scale(1,1.14)" xml:space="preserve" text-anchor="end">61.8 0.72343</text>
<text class="fb" transform="translate(1438.60,446.70) scale(1,1.14)" xml:space="preserve" text-anchor="end">50.0 0.72106</text>
<text class="fb" transform="translate(1438.60,482.10) scale(1,1.14)" xml:space="preserve" text-anchor="end">38.2 0.71870</text>
<text class="fb" transform="translate(1438.60,525.60) scale(1,1.14)" xml:space="preserve" text-anchor="end">23.6 0.71577</text>
<text class="fb" transform="translate(1438.60,597.70) scale(1,1.14)" xml:space="preserve" text-anchor="end">0.0 0.71105</text>
<rect x="3" y="2" width="1438" height="1" fill="#000"/>
<rect x="3" y="2" width="1" height="748.5" fill="#000"/>
<rect x="1440" y="2" width="1.2" height="748.5" fill="#000"/>
<rect x="3" y="631" width="1438" height="1.1" fill="#000"/>
<rect x="3" y="633.3" width="1438" height="1.1" fill="#000"/>
<rect x="3" y="749.5" width="1438" height="1.1" fill="#000"/>
<path d="M6 9.2 L13.2 9.2 L9.6 13.2 Z" fill="#000"/>
<text class="tt" transform="translate(17.50,13.90) scale(1,1.14)" xml:space="preserve">NZDUSD,H4  0.71065 0.71113 0.70998 0.71080</text>
<text class="dt" transform="translate(8.00,646.30) scale(1,1.14)" xml:space="preserve">RSI(14) 35.0720</text>
<rect x="1441" y="26.00" width="2.3" height="1" fill="#000"/>
<text class="ax" transform="translate(1445.40,30.60) scale(1,1.14)" xml:space="preserve">0.74900</text>
<rect x="1441" y="59.44" width="2.3" height="1" fill="#000"/>
<text class="ax" transform="translate(1445.40,64.04) scale(1,1.14)" xml:space="preserve">0.74675</text>
<rect x="1441" y="92.88" width="2.3" height="1" fill="#000"/>
<text class="ax" transform="translate(1445.40,97.48) scale(1,1.14)" xml:space="preserve">0.74455</text>
<rect x="1441" y="126.32" width="2.3" height="1" fill="#000"/>
<text class="ax" transform="translate(1445.40,130.92) scale(1,1.14)" xml:space="preserve">0.74235</text>
<rect x="1441" y="159.76" width="2.3" height="1" fill="#000"/>
<text class="ax" transform="translate(1445.40,164.36) scale(1,1.14)" xml:space="preserve">0.74015</text>
<rect x="1441" y="193.20" width="2.3" height="1" fill="#000"/>
<text class="ax" transform="translate(1445.40,197.80) scale(1,1.14)" xml:space="preserve">0.73790</text>
<rect x="1441" y="226.64" width="2.3" height="1" fill="#000"/>
<text class="ax" transform="translate(1445.40,231.24) scale(1,1.14)" xml:space="preserve">0.73570</text>
<rect x="1441" y="260.08" width="2.3" height="1" fill="#000"/>
<text class="ax" transform="translate(1445.40,264.68) scale(1,1.14)" xml:space="preserve">0.73350</text>
<rect x="1441" y="293.52" width="2.3" height="1" fill="#000"/>
<text class="ax" transform="translate(1445.40,298.12) scale(1,1.14)" xml:space="preserve">0.73130</text>
<rect x="1441" y="326.96" width="2.3" height="1" fill="#000"/>
<text class="ax" transform="translate(1445.40,331.56) scale(1,1.14)" xml:space="preserve">0.72905</text>
<rect x="1441" y="360.40" width="2.3" height="1" fill="#000"/>
<text class="ax" transform="translate(1445.40,365.00) scale(1,1.14)" xml:space="preserve">0.72685</text>
<rect x="1441" y="393.84" width="2.3" height="1" fill="#000"/>
<text class="ax" transform="translate(1445.40,398.44) scale(1,1.14)" xml:space="preserve">0.72465</text>
<rect x="1441" y="427.28" width="2.3" height="1" fill="#000"/>
<text class="ax" transform="translate(1445.40,431.88) scale(1,1.14)" xml:space="preserve">0.72245</text>
<rect x="1441" y="460.72" width="2.3" height="1" fill="#000"/>
<text class="ax" transform="translate(1445.40,465.32) scale(1,1.14)" xml:space="preserve">0.72020</text>
<rect x="1441" y="494.16" width="2.3" height="1" fill="#000"/>
<text class="ax" transform="translate(1445.40,498.76) scale(1,1.14)" xml:space="preserve">0.71800</text>
<rect x="1441" y="527.60" width="2.3" height="1" fill="#000"/>
<text class="ax" transform="translate(1445.40,532.20) scale(1,1.14)" xml:space="preserve">0.71580</text>
<rect x="1441" y="561.04" width="2.3" height="1" fill="#000"/>
<text class="ax" transform="translate(1445.40,565.64) scale(1,1.14)" xml:space="preserve">0.71360</text>
<rect x="1441" y="594.48" width="2.3" height="1" fill="#000"/>
<text class="ax" transform="translate(1445.40,599.08) scale(1,1.14)" xml:space="preserve">0.71135</text>
<rect x="1441" y="627.92" width="2.3" height="1" fill="#000"/>
<text class="ax" transform="translate(1445.40,632.52) scale(1,1.14)" xml:space="preserve">0.70915</text>
<rect x="1442" y="599.2" width="36.8" height="10.3" fill="#000"/>
<text class="ax" transform="translate(1445.40,607.90) scale(1,1.14)" xml:space="preserve" style="fill:#fff;stroke:#fff">0.71080</text>
<g clip-path="url(#rc)">
<line x1="4.5" y1="657.8" x2="1440" y2="657.8" stroke="#a8a8a8" stroke-width="1" stroke-dasharray="2.7 2.74"/>
<line x1="4.5" y1="692.3" x2="1440" y2="692.3" stroke="#a8a8a8" stroke-width="1" stroke-dasharray="2.7 2.74"/>
<line x1="4.5" y1="726.8" x2="1440" y2="726.8" stroke="#a8a8a8" stroke-width="1" stroke-dasharray="2.7 2.74"/>
<polyline points="3.5,677.0 9.8,679.0 18.6,685.3 27.4,685.3 33.3,687.2 40.2,687.2 48.0,682.3 55.3,677.0 62.3,679.4 69.0,666.1 76.4,664.7 84.3,669.0 91.1,664.7 99.0,662.7 105.8,659.4 113.3,670.0 120.5,670.0 127.4,668.0 134.8,670.0 142.1,666.7 148.9,680.4 156.8,691.2 163.6,689.2 171.5,688.2 177.3,690.2 183.2,693.1 193.0,702.3 200.9,703.3 207.7,705.3 215.2,700.6 222.4,703.9 229.3,707.4 236.1,707.4 244.0,701.9 251.4,693.1 258.7,695.1 265.5,696.4 273.4,697.6 280.2,702.9 282.9,705.8 287.4,712.3 294.7,712.3 301.6,713.3 309.4,708.2 316.3,704.3 323.5,704.3 331.0,700.4 337.8,701.3 344.7,702.9 352.5,705.3 360.0,706.8 367.2,702.9 376.0,693.1 382.9,689.2 389.7,691.5 396.6,690.2 403.8,690.2 411.3,699.0 418.7,703.3 425.0,703.3 432.9,699.4 440.7,691.5 447.6,688.2 454.4,686.3 462.2,687.6 469.7,694.5 476.0,691.7 483.8,685.3 490.7,680.4 498.5,678.0 505.4,691.2 513.2,690.2 520.1,688.2 527.3,698.0 534.8,689.2 541.6,687.2 549.5,690.6 556.3,684.3 564.3,678.0 571.4,687.8 578.6,689.2 585.5,686.8 593.3,692.7 600.8,695.1 608.0,700.6 615.3,703.3 622.7,707.2 629.6,706.2 637.0,710.4 644.3,707.2 652.1,707.2 659.0,709.2 665.8,710.4 673.7,698.0 680.5,693.1 688.4,694.5 694.8,697.0 702.1,690.2 709.3,682.9 716.8,688.2 724.6,686.8 732.1,686.8 738.7,690.8 745.2,694.1 753.0,701.0 759.9,702.5 767.7,700.0 775.2,691.2 782.4,690.2 789.3,688.2 797.1,695.1 804.0,697.4 811.4,692.5 818.7,700.6 825.9,705.3 833.4,694.7 840.2,696.4 850.0,689.8 855.0,688.0 862.4,689.6 868.8,693.7 876.1,696.4 883.9,688.2 891.7,694.7 899.2,693.1 906.1,691.7 913.9,685.3 920.7,686.8 927.6,690.2 934.9,691.2 942.7,709.4 949.2,708.2 957.0,713.7 963.9,712.3 973.7,712.3 985.4,714.1 993.3,715.6 1000.7,718.0 1007.0,714.3 1013.8,713.1 1022.3,718.6 1029.5,714.1 1036.4,709.4 1044.2,715.3 1051.1,715.3 1058.3,718.0 1065.8,695.5 1073.2,705.3 1080.5,697.0 1088.3,697.0 1095.2,700.0 1102.0,701.9 1108.9,705.3 1116.7,705.3 1123.6,703.3 1131.4,709.4 1137.9,709.4" fill="none" stroke="#7e36c6" stroke-width="1.12" stroke-linejoin="round" />
</g>
<text class="ax" transform="translate(1443.60,644.10) scale(1,1.14)" xml:space="preserve">100</text>
<text class="ax" transform="translate(1443.60,661.30) scale(1,1.14)" xml:space="preserve">80</text>
<text class="ax" transform="translate(1443.60,695.80) scale(1,1.14)" xml:space="preserve">50</text>
<text class="ax" transform="translate(1443.60,730.30) scale(1,1.14)" xml:space="preserve">20</text>
<text class="ax" transform="translate(1443.60,746.70) scale(1,1.14)" xml:space="preserve">0</text>
<rect x="1441" y="657.30" width="2" height="1" fill="#000"/>
<rect x="1441" y="691.80" width="2" height="1" fill="#000"/>
<rect x="1441" y="726.30" width="2" height="1" fill="#000"/>
<rect x="3.70" y="750" width="1" height="3" fill="#000"/>
<text class="dt" transform="translate(3.00,762.80) scale(1,1.14)" xml:space="preserve">5 Sep 2016</text>
<rect x="61.87" y="750" width="1" height="3" fill="#000"/>
<text class="dt" transform="translate(61.17,762.80) scale(1,1.14)" xml:space="preserve">6 Sep 12:00</text>
<rect x="120.04" y="750" width="1" height="3" fill="#000"/>
<text class="dt" transform="translate(119.34,762.80) scale(1,1.14)" xml:space="preserve">7 Sep 20:00</text>
<rect x="178.21" y="750" width="1" height="3" fill="#000"/>
<text class="dt" transform="translate(177.51,762.80) scale(1,1.14)" xml:space="preserve">9 Sep 04:00</text>
<rect x="236.38" y="750" width="1" height="3" fill="#000"/>
<text class="dt" transform="translate(235.68,762.80) scale(1,1.14)" xml:space="preserve">12 Sep 12:00</text>
<rect x="294.55" y="750" width="1" height="3" fill="#000"/>
<text class="dt" transform="translate(293.85,762.80) scale(1,1.14)" xml:space="preserve">13 Sep 20:00</text>
<rect x="352.72" y="750" width="1" height="3" fill="#000"/>
<text class="dt" transform="translate(352.02,762.80) scale(1,1.14)" xml:space="preserve">15 Sep 04:00</text>
<rect x="410.89" y="750" width="1" height="3" fill="#000"/>
<text class="dt" transform="translate(410.19,762.80) scale(1,1.14)" xml:space="preserve">16 Sep 12:00</text>
<rect x="469.06" y="750" width="1" height="3" fill="#000"/>
<text class="dt" transform="translate(468.36,762.80) scale(1,1.14)" xml:space="preserve">19 Sep 20:00</text>
<rect x="527.23" y="750" width="1" height="3" fill="#000"/>
<text class="dt" transform="translate(526.53,762.80) scale(1,1.14)" xml:space="preserve">21 Sep 04:00</text>
<rect x="585.40" y="750" width="1" height="3" fill="#000"/>
<text class="dt" transform="translate(584.70,762.80) scale(1,1.14)" xml:space="preserve">22 Sep 12:00</text>
<rect x="643.57" y="750" width="1" height="3" fill="#000"/>
<text class="dt" transform="translate(642.87,762.80) scale(1,1.14)" xml:space="preserve">23 Sep 20:00</text>
<rect x="701.74" y="750" width="1" height="3" fill="#000"/>
<text class="dt" transform="translate(701.04,762.80) scale(1,1.14)" xml:space="preserve">27 Sep 04:00</text>
<rect x="759.91" y="750" width="1" height="3" fill="#000"/>
<text class="dt" transform="translate(759.21,762.80) scale(1,1.14)" xml:space="preserve">28 Sep 12:00</text>
<rect x="818.08" y="750" width="1" height="3" fill="#000"/>
<text class="dt" transform="translate(817.38,762.80) scale(1,1.14)" xml:space="preserve">29 Sep 20:00</text>
<rect x="876.25" y="750" width="1" height="3" fill="#000"/>
<text class="tt" transform="translate(875.55,762.80) scale(1,1.14)" xml:space="preserve">3 Oct 04:00</text>
<rect x="934.42" y="750" width="1" height="3" fill="#000"/>
<text class="tt" transform="translate(933.72,762.80) scale(1,1.14)" xml:space="preserve">4 Oct 12:00</text>
<rect x="992.59" y="750" width="1" height="3" fill="#000"/>
<text class="tt" transform="translate(991.89,762.80) scale(1,1.14)" xml:space="preserve">5 Oct 20:00</text>
<rect x="1050.76" y="750" width="1" height="3" fill="#000"/>
<text class="tt" transform="translate(1050.06,762.80) scale(1,1.14)" xml:space="preserve">7 Oct 04:00</text>
<rect x="1108.93" y="750" width="1" height="3" fill="#000"/>
<text class="tt" transform="translate(1108.23,762.80) scale(1,1.14)" xml:space="preserve">10 Oct 12:00</text>
</svg></body></html>
